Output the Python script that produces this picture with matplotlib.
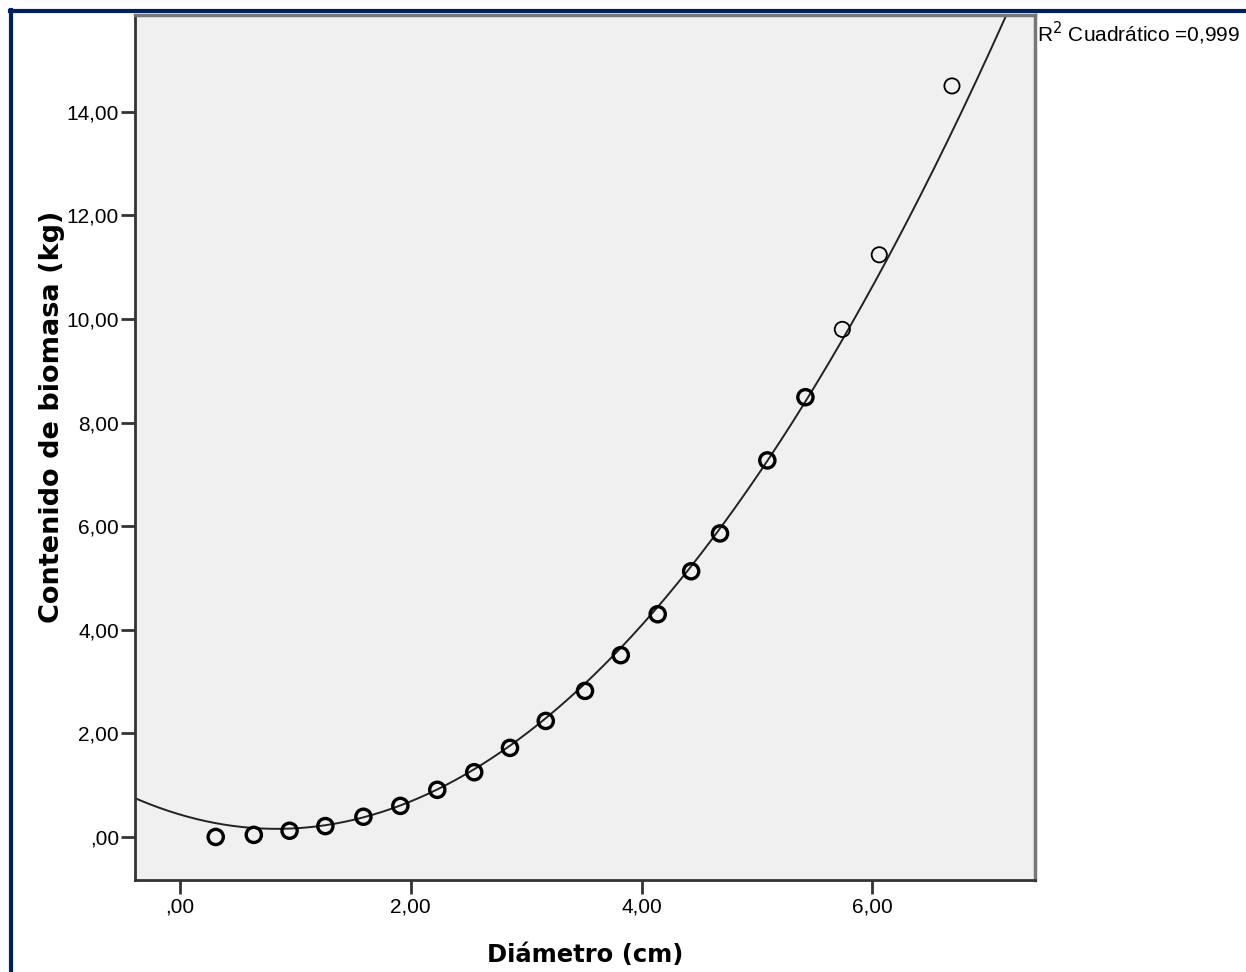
import matplotlib.pyplot as plt
import numpy as np
from matplotlib.ticker import FuncFormatter
from matplotlib.lines import Line2D

plt.rcParams['font.family'] = ['Liberation Sans', 'DejaVu Sans']

# diameter (cm) and biomass (kg)
diametro = [0.31, 0.64, 0.95, 1.26, 1.59, 1.91, 2.23, 2.55, 2.86, 3.17,
            3.51, 3.82, 4.14, 4.43, 4.68, 5.09, 5.42, 5.74, 6.06, 6.69]
biomasa = [0.00, 0.04, 0.12, 0.21, 0.39, 0.60, 0.91, 1.25, 1.72, 2.24,
           2.82, 3.51, 4.30, 5.13, 5.86, 7.27, 8.49, 9.80, 11.24, 14.50]
# quadratic fit as drawn (a*x^2 + b*x + c)
fit_coef = [0.393, -0.659, 0.433]
r2_text = "R$^2$ Cuadrático =0,999"
x_ticks = [0, 2, 4, 6]
y_ticks = [0, 2, 4, 6, 8, 10, 12, 14]


def spss_fmt(v, pos):
    s = "%.2f" % v
    s = s.replace(".", ",")
    if s.startswith("0,"):
        s = s[1:]
    return s


fig = plt.figure(figsize=(12.46, 9.72), dpi=100)
ax = fig.add_axes([0.1083, 0.0947, 0.7224, 0.8899])
ax.set_facecolor('#f0f0f0')

xx = np.linspace(-0.5, 7.5, 400)
ax.plot(xx, np.polyval(fit_coef, xx), color='#222222', lw=1.4, zorder=2)

lws = [2.4 if b < 9 else 1.3 for b in biomasa]
ax.scatter(diametro, biomasa, s=120, facecolors='none', edgecolors='black',
           linewidths=lws, zorder=3)

ax.set_xlim(-0.39, 7.41)
ax.set_ylim(-0.83, 15.87)
ax.set_xticks(x_ticks)
ax.set_yticks(y_ticks)
ax.xaxis.set_major_formatter(FuncFormatter(spss_fmt))
ax.yaxis.set_major_formatter(FuncFormatter(spss_fmt))
ax.tick_params(axis='both', direction='out', length=10, width=2,
               color='#333333', labelsize=15)
ax.tick_params(axis='y', pad=1.5)
ax.tick_params(axis='x', pad=2.5)
for side in ['left', 'bottom']:
    ax.spines[side].set_color('#333333')
    ax.spines[side].set_linewidth(2)
for side in ['top', 'right']:
    ax.spines[side].set_color('#777777')
    ax.spines[side].set_linewidth(2.5)

ax.set_xlabel("Diámetro (cm)", fontsize=17.5, fontweight='bold',
              family='DejaVu Sans', va='center')
ax.xaxis.set_label_coords(0.5, -0.087)
ax.set_ylabel("Contenido de biomasa (kg)", fontsize=19.5, fontweight='bold',
              family='DejaVu Sans', va='center')
ax.yaxis.set_label_coords(-0.092, 0.536)

fig.text(1037 / 1246, 1 - 33 / 972, r2_text, fontsize=15, va='center', ha='left')

# dark blue frame on top and left
fig.add_artist(Line2D([10 / 1246, 1], [1 - 11 / 972, 1 - 11 / 972],
                      transform=fig.transFigure, color='#002060', lw=3))
fig.add_artist(Line2D([11 / 1246, 11 / 1246], [0, 1 - 10 / 972],
                      transform=fig.transFigure, color='#002060', lw=3))

fig.savefig("out.png", dpi=100)
